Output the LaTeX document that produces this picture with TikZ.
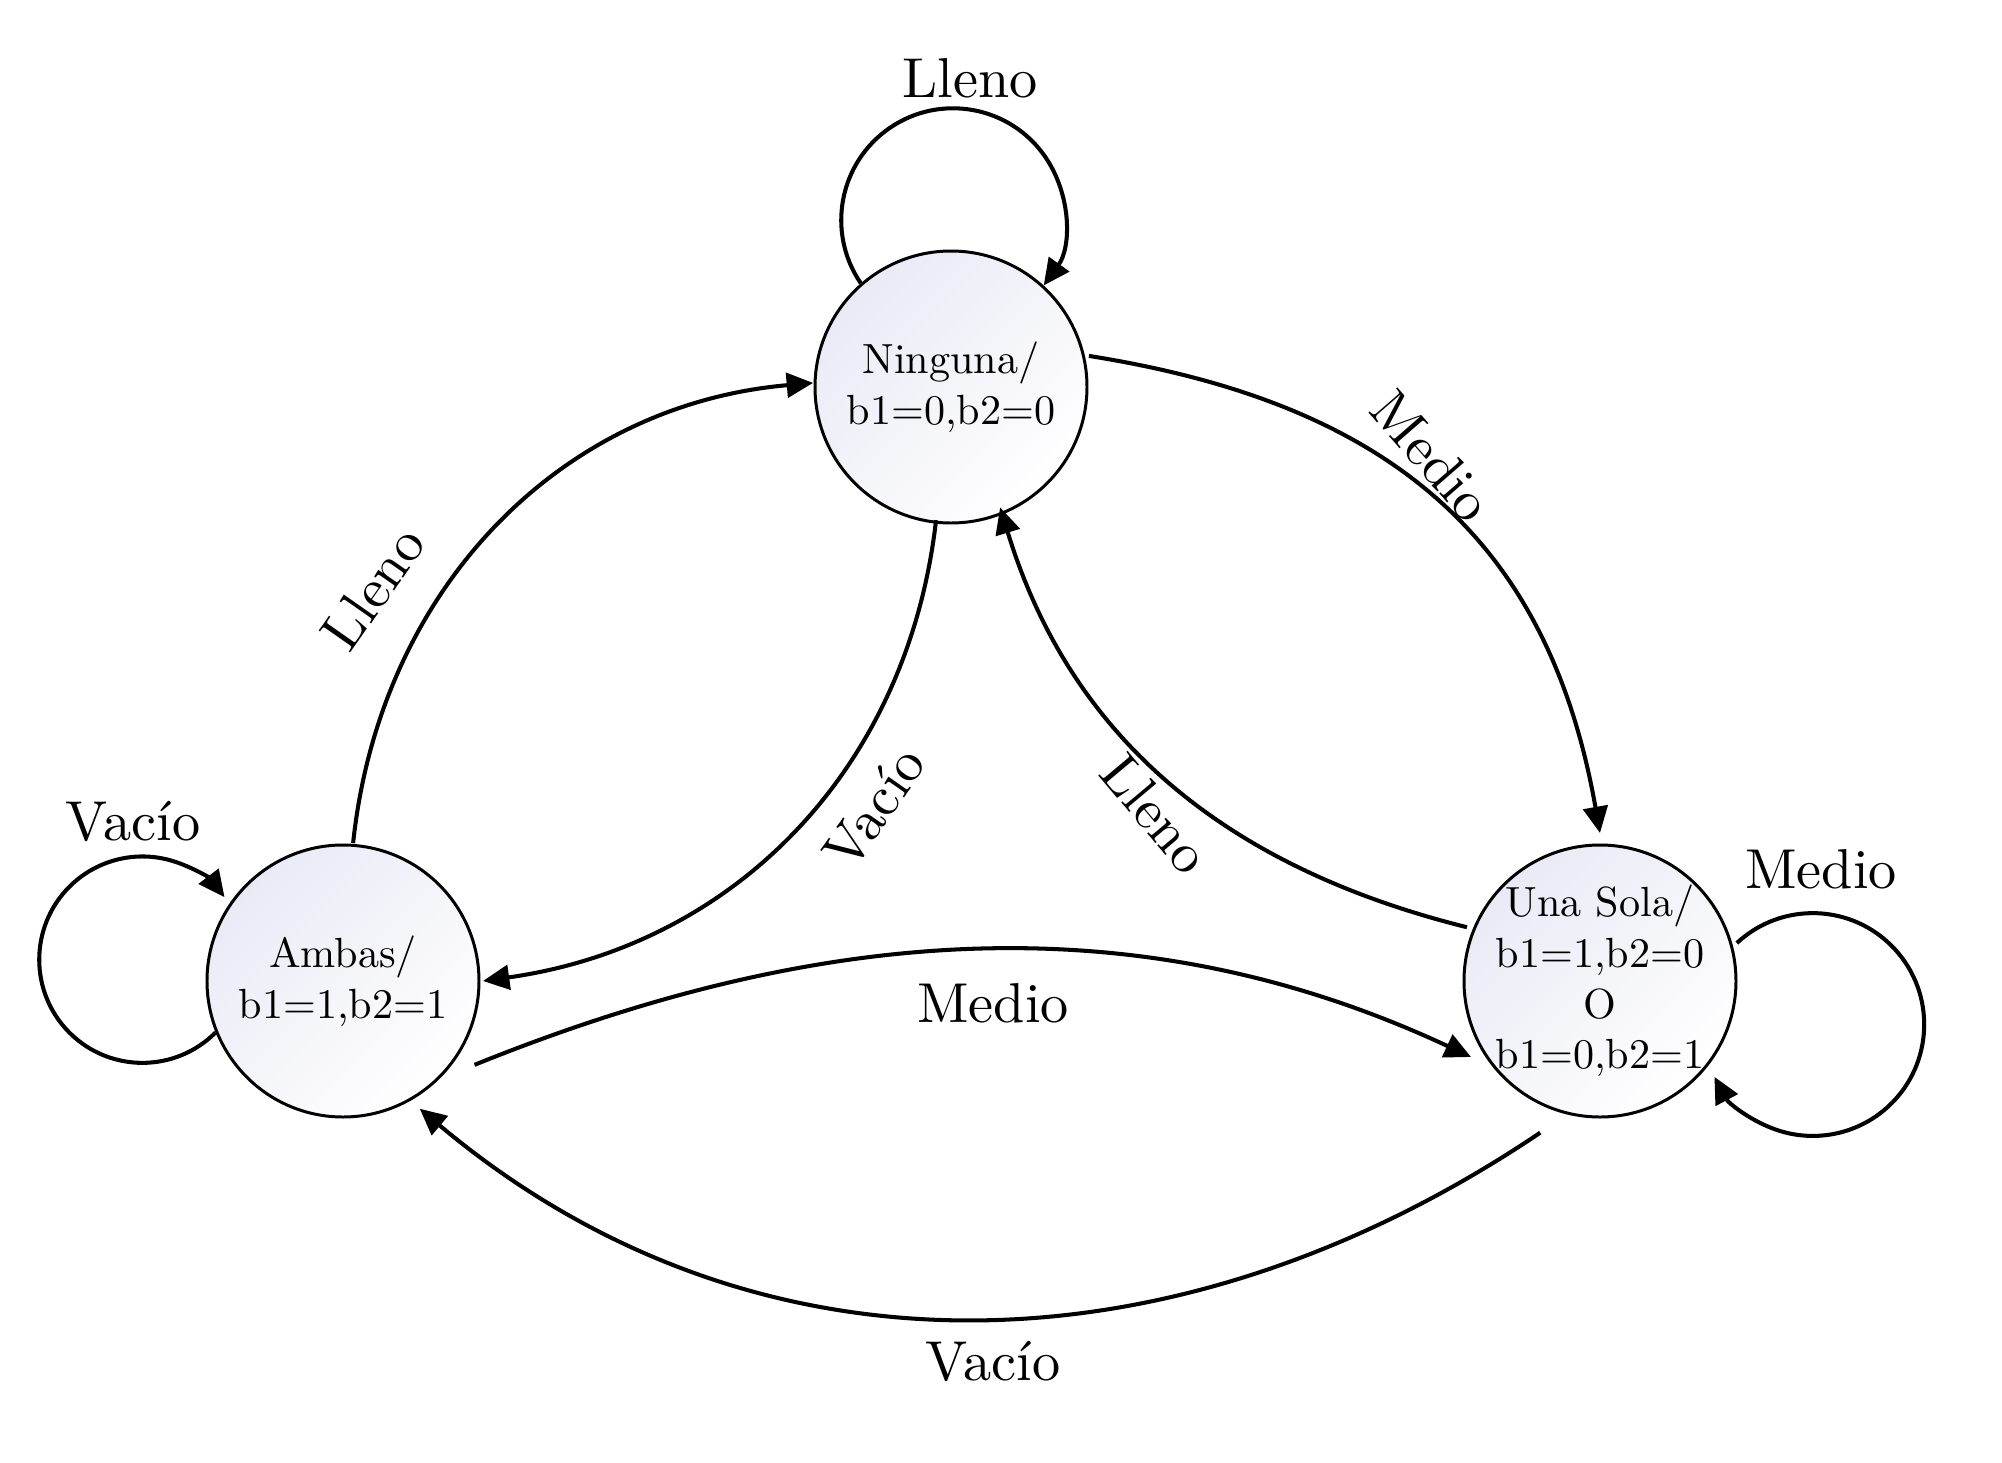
\documentclass[tikz,border=0pt]{standalone}
\usetikzlibrary{arrows.meta,calc}
\definecolor{statefill}{RGB}{233,234,245}
\tikzset{
  state/.style={circle, draw, line width=0.85pt, minimum size=2.72cm, inner sep=0pt,
    top color=statefill, bottom color=white, shading angle=45},
  statetext/.style={align=center, font=\fontsize{10}{12}\selectfont, inner sep=0pt, scale=1.2},
  edge/.style={line width=1.15pt, -{Triangle[length=7.5pt,width=7pt]}},
  lbl/.style={font=\fontsize{10}{12}\selectfont, inner sep=0pt, scale=1.6},
}
\begin{document}
\begin{tikzpicture}
\useasboundingbox (0,0) rectangle (20.02,-14.63);
% states
\node[state, label={[statetext]center:{Ninguna/\\b1=0,b2=0}}] (N) at (9.51,-3.87) {};
\node[state, label={[statetext]center:{Ambas/\\b1=1,b2=1}}] (A) at (3.43,-9.81) {};
\node[state, label={[statetext]center:{Una Sola/\\b1=1,b2=0\\O\\b1=0,b2=1}}] (U) at (16.00,-9.81) {};
% self loops
\draw[edge] (N.131) arc[start angle=214.4, end angle=-35.8, radius=1.118];
\draw[edge] (A.202.6) arc[start angle=-44.9, end angle=-322.7, radius=1.032];
\draw[edge] ($(U)+(15.5:1.42)$) arc[start angle=133, end angle=-152, radius=1.114];
% transitions
\draw[edge] ($(N)+(12.7:1.414)$) to[out=-9, in=100, looseness=1.1] ($(U)+(90:1.48)$);
\draw[edge] ($(A)+(85.8:1.383)$) to[out=84, in=185] ($(N)+(178.3:1.38)$);
\draw[edge] ($(N)+(263.6:1.34)$) to[out=-96.5, in=8] ($(A)+(0:1.40)$);
\draw[edge] ($(U)+(158:1.435)$) to[out=166, in=-73] ($(N)+(-67.8:1.30)$);
\draw[edge] ($(A)+(-32.5:1.56)$) to[out=22, in=155, looseness=0.95] ($(U)+(210.5:1.497)$);
\draw[edge] ($(U)+(248.5:1.63)$) to[out=214, in=-40] ($(A)+(-59:1.49)$);
% labels
\node[lbl, anchor=base] (lN) at (9.70,-0.97) {Lleno};
\node[lbl, anchor=base] (lA) at (1.33,-8.40) {Vacío};
\node[lbl, anchor=base] (lU) at (18.21,-8.88) {Medio};
\node[lbl, anchor=base] (lAU) at (9.93,-10.22) {Medio};
\node[lbl, anchor=base] (lUA) at (9.93,-13.80) {Vacío};
\node[lbl, rotate=-49] (lNU) at (14.32,-4.56) {Medio};
\node[lbl, rotate=55] (lAN) at (3.73,-5.88) {Lleno};
\node[lbl, rotate=55] (lNA) at (8.74,-8.08) {Vacío};
\node[lbl, rotate=-50] (lUN) at (11.56,-8.14) {Lleno};
\end{tikzpicture}
\end{document}
